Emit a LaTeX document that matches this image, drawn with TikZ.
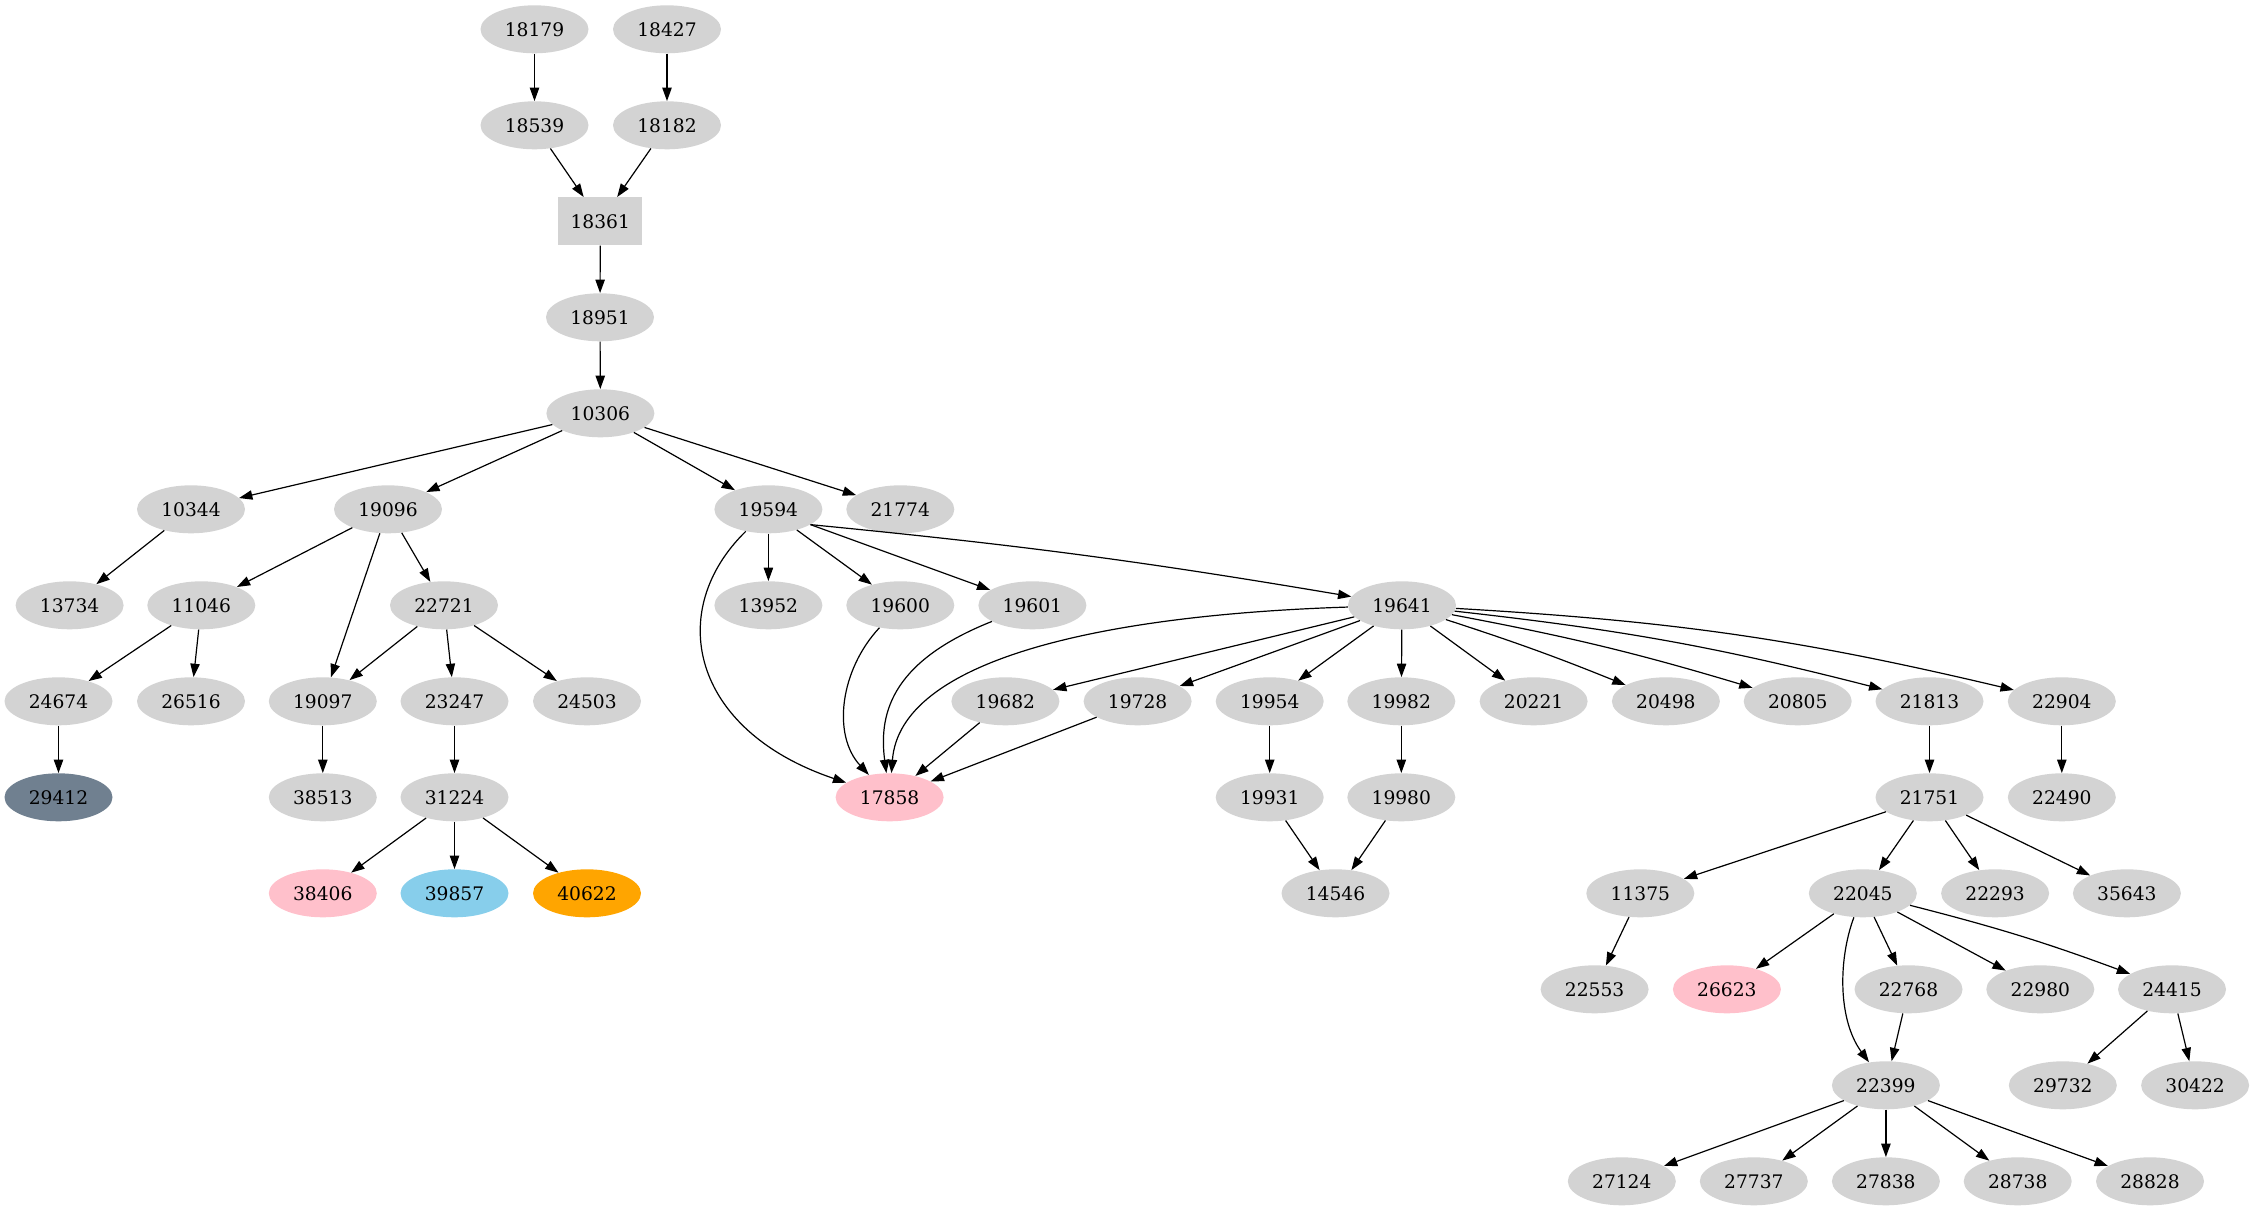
\documentclass[tikz,border=0pt]{standalone}
\usepackage{fontspec}
\setmainfont{DejaVu Serif}
\usetikzlibrary{arrows.meta,shapes.geometric}
\definecolor{gv}{HTML}{D3D3D3}
\definecolor{pinkc}{HTML}{FFC0CB}
\definecolor{slate}{HTML}{708090}
\definecolor{skyb}{HTML}{87CEEB}
\definecolor{orng}{HTML}{FFA500}
\begin{document}
\begin{tikzpicture}[x=0.75pt,y=-0.75pt,
  nd/.style={ellipse, fill=gv, minimum width=81pt, minimum height=36pt, inner sep=0pt, font=\fontsize{14}{16}\selectfont},
  bx/.style={rectangle, fill=gv, minimum width=63pt, minimum height=36pt, inner sep=0pt, font=\fontsize{14}{16}\selectfont},
  ed/.style={-{Triangle[length=10pt,width=7pt]}, line width=0.9pt}]
\useasboundingbox (0,0) rectangle (2254,1211);
% rank 0
\node[nd] (n18179) at (534.5,29.3) {18179};
\node[nd] (n18427) at (667,29.3) {18427};
% rank 1
\node[nd] (n18539) at (534.5,125.3) {18539};
\node[nd] (n18182) at (667,125.3) {18182};
% rank 2
\node[bx] (n18361) at (600.3,221.3) {18361};
% rank 3
\node[nd] (n18951) at (600,317.3) {18951};
% rank 4
\node[nd] (n10306) at (600.4,413.3) {10306};
% rank 5
\node[nd] (n10344) at (191,509.3) {10344};
\node[nd] (n19096) at (388,509.3) {19096};
\node[nd] (n19594) at (768.4,509.3) {19594};
\node[nd] (n21774) at (900.3,509.3) {21774};
% rank 6
\node[nd] (n13734) at (69.6,605.3) {13734};
\node[nd] (n11046) at (201.3,605.3) {11046};
\node[nd] (n22721) at (444,605.3) {22721};
\node[nd] (n13952) at (768.4,605.3) {13952};
\node[nd] (n19600) at (900.3,605.3) {19600};
\node[nd] (n19601) at (1032.4,605.3) {19601};
\node[nd] (n19641) at (1402,605.3) {19641};
% rank 7
\node[nd] (n24674) at (58.5,701.3) {24674};
\node[nd] (n26516) at (191,701.3) {26516};
\node[nd] (n19097) at (322.8,701.3) {19097};
\node[nd] (n23247) at (454.5,701.3) {23247};
\node[nd] (n24503) at (587,701.3) {24503};
\node[nd] (n19682) at (1005.4,701.3) {19682};
\node[nd] (n19728) at (1137.6,701.3) {19728};
\node[nd] (n19954) at (1269.7,701.3) {19954};
\node[nd] (n19982) at (1401.3,701.3) {19982};
\node[nd] (n20221) at (1533.6,701.3) {20221};
\node[nd] (n20498) at (1665.9,701.3) {20498};
\node[nd] (n20805) at (1797.7,701.3) {20805};
\node[nd] (n21813) at (1929.5,701.3) {21813};
\node[nd] (n22904) at (2061.8,701.3) {22904};
% rank 8
\node[nd, fill=slate] (n29412) at (58.5,797.3) {29412};
\node[nd] (n38513) at (322.8,797.3) {38513};
\node[nd] (n31224) at (454.5,797.3) {31224};
\node[nd, fill=pinkc] (n17858) at (889.6,797.3) {17858};
\node[nd] (n19931) at (1269.7,797.3) {19931};
\node[nd] (n19980) at (1401.3,797.3) {19980};
\node[nd] (n21751) at (1929.5,797.3) {21751};
\node[nd] (n22490) at (2061.8,797.3) {22490};
% rank 9
\node[nd, fill=pinkc] (n38406) at (322.8,893.3) {38406};
\node[nd, fill=skyb] (n39857) at (454.5,893.3) {39857};
\node[nd, fill=orng] (n40622) at (587,893.3) {40622};
\node[nd] (n14546) at (1335.5,893.3) {14546};
\node[nd] (n11375) at (1640.3,893.3) {11375};
\node[nd] (n22045) at (1862.8,893.3) {22045};
\node[nd] (n22293) at (1995.1,893.3) {22293};
\node[nd] (n35643) at (2126.9,893.3) {35643};
% rank 10
\node[nd] (n22553) at (1594.6,989.3) {22553};
\node[nd, fill=pinkc] (n26623) at (1726.9,989.3) {26623};
\node[nd] (n22768) at (1908.5,989.3) {22768};
\node[nd] (n22980) at (2040.3,989.3) {22980};
\node[nd] (n24415) at (2172,989.3) {24415};
% rank 11
\node[nd] (n22399) at (1885.9,1085.3) {22399};
\node[nd] (n29732) at (2062.8,1085.3) {29732};
\node[nd] (n30422) at (2195.1,1085.3) {30422};
% rank 12
\node[nd] (n27124) at (1621.8,1181.3) {27124};
\node[nd] (n27737) at (1753.8,1181.3) {27737};
\node[nd] (n27838) at (1885.9,1181.3) {27838};
\node[nd] (n28738) at (2017.7,1181.3) {28738};
\node[nd] (n28828) at (2150,1181.3) {28828};
% edges
\draw[ed] (n18179) -- (n18539);
\draw[ed] (n18427) -- (n18182);
\draw[ed] (n18539) -- (n18361);
\draw[ed] (n18182) -- (n18361);
\draw[ed] (n18361) -- (n18951);
\draw[ed] (n18951) -- (n10306);
\draw[ed] (n10306) -- (n10344);
\draw[ed] (n10306) -- (n19096);
\draw[ed] (n10306) -- (n19594);
\draw[ed] (n10306) -- (n21774);
\draw[ed] (n10344) -- (n13734);
\draw[ed] (n19096) -- (n11046);
\draw[ed] (n19096) -- (n19097);
\draw[ed] (n19096) -- (n22721);
\draw[ed] (n11046) -- (n24674);
\draw[ed] (n11046) -- (n26516);
\draw[ed] (n22721) -- (n19097);
\draw[ed] (n22721) -- (n23247);
\draw[ed] (n22721) -- (n24503);
\draw[ed] (n24674) -- (n29412);
\draw[ed] (n19097) -- (n38513);
\draw[ed] (n23247) -- (n31224);
\draw[ed] (n31224) -- (n38406);
\draw[ed] (n31224) -- (n39857);
\draw[ed] (n31224) -- (n40622);
\draw[ed] (n19594) .. controls (665,610) and (690,730) .. (n17858);
\draw[ed] (n19594) -- (n13952);
\draw[ed] (n19594) -- (n19600);
\draw[ed] (n19594) -- (n19601);
\draw[ed] (n19594.-20) to[bend left=2] (n19641);
\draw[ed] (n19600) .. controls (840,670) and (832,735) .. (n17858);
\draw[ed] (n19601) .. controls (895,660) and (878,710) .. (n17858);
\draw[ed] (n19641) .. controls (1100,615) and (900,660) .. (n17858);
\draw[ed] (n19641) -- (n19682);
\draw[ed] (n19641) -- (n19728);
\draw[ed] (n19641) -- (n19954);
\draw[ed] (n19641) -- (n19982);
\draw[ed] (n19641) -- (n20221);
\draw[ed] (n19641) to[bend left=2] (n20498);
\draw[ed] (n19641) to[bend left=3] (n20805);
\draw[ed] (n19641) to[bend left=4] (n21813);
\draw[ed] (n19641) to[bend left=5] (n22904);
\draw[ed] (n19682) -- (n17858);
\draw[ed] (n19728) -- (n17858);
\draw[ed] (n19954) -- (n19931);
\draw[ed] (n19982) -- (n19980);
\draw[ed] (n19931) -- (n14546);
\draw[ed] (n19980) -- (n14546);
\draw[ed] (n21813) -- (n21751);
\draw[ed] (n22904) -- (n22490);
\draw[ed] (n21751) -- (n11375);
\draw[ed] (n21751) -- (n22045);
\draw[ed] (n21751) -- (n22293);
\draw[ed] (n21751) -- (n35643);
\draw[ed] (n11375) -- (n22553);
\draw[ed] (n22045) -- (n26623);
\draw[ed] (n22045) .. controls (1838,960) and (1838,1020) .. (n22399);
\draw[ed] (n22045) -- (n22768);
\draw[ed] (n22045) -- (n22980);
\draw[ed] (n22045) to[bend left=3] (n24415);
\draw[ed] (n22768) -- (n22399);
\draw[ed] (n24415) -- (n29732);
\draw[ed] (n24415) -- (n30422);
\draw[ed] (n22399) -- (n27124);
\draw[ed] (n22399) -- (n27737);
\draw[ed] (n22399) -- (n27838);
\draw[ed] (n22399) -- (n28738);
\draw[ed] (n22399) -- (n28828);
\end{tikzpicture}
\end{document}
